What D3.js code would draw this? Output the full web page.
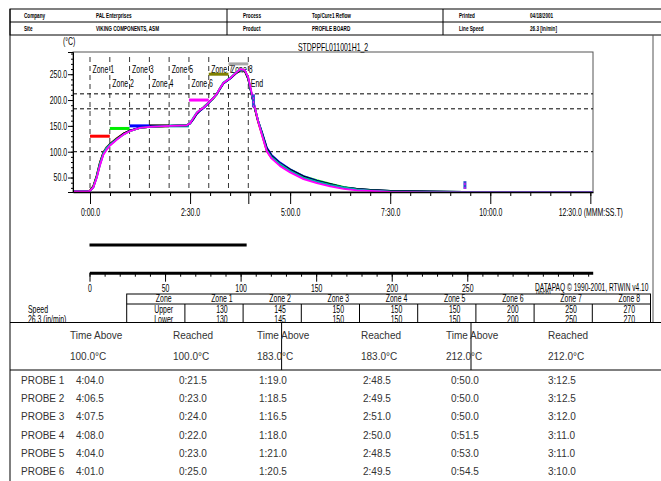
<!DOCTYPE html>
<html>
<head>
<meta charset="utf-8">
<script src="https://cdn.jsdelivr.net/npm/d3@7"></script>
<style>
body { margin: 0; background: #fff; }
svg text { font-family: "Liberation Sans", Arial, sans-serif; fill: #000; }
svg .plain { fill: #333; }
</style>
</head>
<body>
<div id="chart"></div>
<script>
// ---- data ----
const headerRow1 = ["Company", "PAL Enterprises", "Process", "Top/Cure1 Reflow", "Printed", "04/18/2001"];
const headerRow2 = ["Site", "VIKING COMPONENTS, ASM", "Product", "PROFILE BOARD", "Line Speed", "26.3 [in/min]"];
const chartTitle = "STDPPFL011001H1_2";

const zoneNames = ["Zone 1", "Zone 2", "Zone 3", "Zone 4", "Zone 5", "Zone 6", "Zone 7", "Zone 8", "End"];
const zoneStart = [0, 29.7, 59.3, 89, 118.6, 148.3, 178, 207.6, 237.3];   // seconds
const zoneLabelRow = [0, 1, 0, 1, 0, 1, 0, 0, 1];
const zoneUpper = [130, 145, 150, 150, 150, 200, 250, 270];
const zoneLower = [130, 145, 150, 150, 150, 200, 250, 270];
const zoneColors = ["#ff0000", "#00ee00", "#0000ff", "#000000", "#00a0a0", "#ff00ff", "#808000", "#a8a8a8"];

const thresholds = [100, 183, 212];

const yMajor = [50, 100, 150, 200, 250];
const timeMajor = [0, 150, 300, 450, 600, 750];
const timeTickLabels = ["0:00.0", "2:30.0", "5:00.0", "7:30.0", "10:00.0", "12:30.0 (MMM:SS.T)"];
const distMajor = [0, 50, 100, 150, 200, 250];
const ovenLength = 104;

// probe samples (seconds, degC)
const times = [-25, -3, 0, 5, 10, 15, 20, 25, 30, 40, 50, 60, 75, 90, 120, 145, 150, 155, 160, 165, 170, 175, 180, 185, 190, 195, 200, 210, 220, 226, 232, 237, 242, 247, 252, 258, 265, 272, 285, 300, 320, 340, 360, 380, 400, 420, 450, 500, 560, 620, 675, 754];
const probe1 = [23, 23, 25, 34, 54, 80, 99, 109, 115, 126, 135, 141, 146, 148, 150, 151, 155, 165, 175, 181, 186, 192, 198, 204, 211, 223, 233, 242, 254, 259, 256, 241, 212, 183, 157, 132, 101, 88, 74, 62, 49, 41, 35, 30, 27, 25, 23, 22, 22, 22, 22, 22];
const probe2 = [23, 23, 24, 32, 51, 77, 97, 107, 114, 125, 134, 140, 146, 148, 150, 151, 155, 164, 174, 180, 185, 191, 197, 203, 211, 222, 232, 242, 253, 258, 257, 243, 213, 185, 160, 136, 106, 93, 78, 66, 53, 45, 38, 32, 28, 26, 24, 23, 22, 22, 22, 22];
const probe3 = [23, 23, 24, 31, 50, 75, 95, 105, 113, 124, 134, 141, 147, 149, 150, 151, 154, 163, 173, 179, 184, 190, 197, 204, 211, 222, 232, 241, 253, 258, 257, 242, 212, 184, 160, 137, 108, 94, 79, 66, 53, 44, 37, 31, 28, 26, 24, 23, 22, 22, 22, 22];
const probe4 = [23, 23, 25, 33, 53, 79, 98, 108, 115, 125, 135, 141, 146, 148, 150, 151, 155, 164, 174, 180, 185, 191, 198, 204, 212, 223, 233, 242, 253, 258, 257, 242, 213, 184, 159, 135, 106, 92, 77, 65, 52, 43, 37, 31, 28, 26, 24, 23, 22, 22, 22, 22];
const probe5 = [23, 23, 24, 32, 52, 78, 97, 108, 114, 124, 133, 140, 146, 148, 150, 151, 156, 166, 176, 181, 186, 192, 198, 204, 212, 224, 234, 243, 255, 259, 258, 244, 214, 186, 160, 134, 103, 90, 76, 63, 50, 42, 36, 31, 27, 25, 23, 22, 22, 22, 22, 22];
const probe6 = [23, 23, 24, 31, 49, 74, 94, 104, 112, 123, 133, 140, 146, 148, 150, 151, 155, 165, 175, 181, 185, 191, 198, 204, 212, 223, 233, 242, 254, 260, 258, 245, 216, 187, 159, 131, 101, 87, 72, 60, 47, 39, 33, 28, 25, 24, 22, 21, 21, 21, 21, 21];
const probes = [probe1, probe2, probe3, probe4, probe5, probe6];
const probeColors = ["#ff0000", "#00ee00", "#0000ff", "#000000", "#00b0b0", "#ff00ff"];

// stray marks drawn by the logger
const markTimes = [245, 562];
const markLow = [186, 28];
const markHigh = [211, 43];

// summary table
const probeNames = ["PROBE 1", "PROBE 2", "PROBE 3", "PROBE 4", "PROBE 5", "PROBE 6"];
const timeAbove100 = ["4:04.0", "4:06.5", "4:07.5", "4:08.0", "4:04.0", "4:01.0"];
const reached100 = ["0:21.5", "0:23.0", "0:24.0", "0:22.0", "0:23.0", "0:25.0"];
const timeAbove183 = ["1:19.0", "1:18.5", "1:16.5", "1:18.0", "1:21.0", "1:20.5"];
const reached183 = ["2:48.5", "2:49.5", "2:51.0", "2:50.0", "2:48.5", "2:49.5"];
const timeAbove212 = ["0:50.0", "0:50.0", "0:50.0", "0:51.5", "0:53.0", "0:54.5"];
const reached212 = ["3:12.5", "3:12.5", "3:12.0", "3:11.0", "3:11.0", "3:10.0"];
const summaryHead1 = ["Time Above", "Reached", "Time Above", "Reached", "Time Above", "Reached"];
const summaryHead2 = ["100.0°C", "100.0°C", "183.0°C", "183.0°C", "212.0°C", "212.0°C"];

// squeeze text horizontally around its own x (the report uses a narrow font)
function squeeze(sel, s) {
    sel.attr("transform", function() {
        const x0 = +this.getAttribute("x") || 0;
        return `translate(${x0},0) scale(${s},1) translate(${-x0},0)`;
    });
}
const NS = 0.66, FS = 10.5;

// ---- drawing ----
const svg = d3.select("#chart").append("svg")
    .attr("width", 661)
    .attr("height", 481);

// header box
const hx = [24, 96, 243, 312, 459, 530];
svg.append("rect").attr("x", 10).attr("y", 9).attr("width", 700).attr("height", 26)
    .attr("fill", "none").attr("stroke", "#000");
svg.append("line").attr("x1", 10).attr("x2", 661).attr("y1", 22).attr("y2", 22).attr("stroke", "#000");
[227, 443].forEach(d => svg.append("line").attr("x1", d).attr("x2", d).attr("y1", 9).attr("y2", 35).attr("stroke", "#000"));
[headerRow1, headerRow2].forEach((row, r) => {
    svg.append("g").selectAll("text").data(row).join("text")
        .attr("x", (d, i) => hx[i])
        .attr("y", r == 0 ? 18.5 : 31.5)
        .attr("font-size", 8)
        .attr("font-weight", "bold")
        .text(d => d)
        .call(squeeze, 0.58);
});

// page frame
svg.append("line").attr("x1", 10).attr("x2", 10).attr("y1", 9).attr("y2", 322).attr("stroke", "#000");
svg.append("line").attr("x1", 653).attr("x2", 653).attr("y1", 35).attr("y2", 322).attr("stroke", "#555");

// scales
const x = d3.scaleLinear().domain([-25.5, 754]).range([73, 593]);
const y = d3.scaleLinear().domain([22, 293]).range([192, 52]);
const dx = d3.scaleLinear().domain([0, 333]).range([89.5, 592.7]);

svg.append("text").attr("x", 63).attr("y", 45).attr("font-size", FS).text("(°C)").call(squeeze, NS);
svg.append("text").attr("x", 298).attr("y", 51).attr("font-size", FS).text(chartTitle).call(squeeze, NS);

svg.append("defs").append("clipPath").attr("id", "plotclip")
    .append("rect").attr("x", 73).attr("y", 52).attr("width", 520).attr("height", 141);

// plot border
svg.append("rect").attr("x", 73).attr("y", 52).attr("width", 520).attr("height", 140)
    .attr("fill", "none").attr("stroke", "#555");

// threshold dashes
svg.append("g").selectAll("line").data(thresholds).join("line")
    .attr("x1", 73).attr("x2", 593)
    .attr("y1", d => y(d)).attr("y2", d => y(d))
    .attr("stroke", "#000").attr("stroke-dasharray", "4,3");

// zone dividers
svg.append("g").selectAll("line").data(zoneStart).join("line")
    .attr("x1", d => x(d)).attr("x2", d => x(d))
    .attr("y1", 57).attr("y2", 192)
    .attr("stroke", "#000").attr("stroke-width", 0.8).attr("stroke-dasharray", "5,4");

svg.append("g").selectAll("text").data(zoneNames).join("text")
    .attr("x", (d, i) => x(zoneStart[i]) + 2.5)
    .attr("y", (d, i) => zoneLabelRow[i] == 0 ? 73 : 87)
    .attr("font-size", FS)
    .text(d => d)
    .call(squeeze, NS);

// setpoint bars
svg.append("g").selectAll("line").data(zoneUpper).join("line")
    .attr("x1", (d, i) => x(zoneStart[i]))
    .attr("x2", (d, i) => x(zoneStart[i + 1]))
    .attr("y1", d => y(d)).attr("y2", d => y(d))
    .attr("stroke", (d, i) => zoneColors[i])
    .attr("stroke-width", 3);

// probe curves
const line = d3.line()
    .x((d, i) => x(times[i]))
    .y(d => y(d));

svg.append("g").attr("clip-path", "url(#plotclip)")
    .selectAll("path").data(probes).join("path")
    .attr("d", d => line(d))
    .attr("fill", "none")
    .attr("stroke", (d, i) => probeColors[i])
    .attr("stroke-width", 1.8)
    .attr("stroke-linejoin", "round");

const marks = svg.append("g");
markTimes.forEach((t, i) => {
    marks.append("line").attr("x1", x(t)).attr("x2", x(t))
        .attr("y1", y(markLow[i])).attr("y2", y(markHigh[i]))
        .attr("stroke", "#3050d0").attr("stroke-width", 3);
    marks.append("line").attr("x1", x(t)).attr("x2", x(t))
        .attr("y1", y(markLow[i])).attr("y2", y(markHigh[i]))
        .attr("stroke", "#ff00ff").attr("stroke-width", 1.2).attr("stroke-dasharray", "2,2");
});

// y axis
svg.append("g").attr("transform", "translate(73,0)")
    .call(d3.axisLeft(y).tickValues(d3.range(30, 291, 10)).tickSize(2).tickFormat(""))
    .call(g => g.select(".domain").remove());
svg.append("g").attr("transform", "translate(73,0)")
    .call(d3.axisLeft(y).tickValues(yMajor).tickSize(5).tickPadding(1).tickFormat(d3.format(".1f")))
    .call(g => g.select(".domain").attr("stroke", "#000"))
    .call(g => g.selectAll("text").attr("font-size", FS).attr("font-family", null).call(squeeze, NS));

// x axis
svg.append("g").attr("transform", "translate(0,192)")
    .call(d3.axisBottom(x).tickValues(d3.range(0, 751, 30)).tickSize(4).tickFormat(""))
    .call(g => g.select(".domain").remove());
svg.append("g").attr("transform", "translate(0,192)")
    .call(d3.axisBottom(x).tickValues(timeMajor).tickSize(12).tickPadding(5).tickSizeOuter(0)
        .tickFormat((d, i) => timeTickLabels[i]))
    .call(g => g.select(".domain").attr("stroke", "#000").attr("stroke-width", 1.5))
    .call(g => g.selectAll("text").attr("font-size", FS).attr("font-family", null).call(squeeze, NS));
svg.append("g").attr("transform", "translate(0,192)")
    .call(d3.axisBottom(x).tickValues([zoneStart[zoneStart.length - 1]]).tickSize(12).tickFormat(""))
    .call(g => g.select(".domain").remove());

// conveyor / distance panel
svg.append("line")
    .attr("x1", dx(0)).attr("x2", dx(ovenLength))
    .attr("y1", 245).attr("y2", 245)
    .attr("stroke", "#000").attr("stroke-width", 3);

svg.append("g").attr("transform", "translate(0,272.7)")
    .call(d3.axisBottom(dx).tickValues(d3.range(0, 331, 10)).tickSize(4).tickSizeOuter(0).tickFormat(""))
    .call(g => g.select(".domain").attr("stroke", "#000").attr("stroke-width", 3));
svg.append("g").attr("transform", "translate(0,272.7)")
    .call(d3.axisBottom(dx).tickValues(distMajor).tickSize(9).tickPadding(3).tickFormat(d3.format("d")))
    .call(g => g.select(".domain").remove())
    .call(g => g.selectAll("text").attr("font-size", FS).attr("font-family", null).call(squeeze, NS));

svg.append("text").attr("x", 536).attr("y", 296).attr("font-size", 9).text("(inch)").call(squeeze, NS);
svg.append("text").attr("x", 535).attr("y", 291).attr("font-size", FS)
    .text("DATAPAQ © 1990-2001, RTWIN v4.10").call(squeeze, 0.63);

// zone table
const tLeft = 126.7, tCol = 58.2;
const tableCols = ["Zone"].concat(zoneNames.slice(0, 8));
svg.append("rect").attr("x", tLeft).attr("y", 294).attr("width", tCol * 9).attr("height", 30)
    .attr("fill", "#fff").attr("stroke", "#000");
svg.append("line").attr("x1", tLeft).attr("x2", tLeft + tCol * 9).attr("y1", 304).attr("y2", 304).attr("stroke", "#000");
svg.append("g").selectAll("line").data(d3.range(1, 9)).join("line")
    .attr("x1", d => tLeft + d * tCol).attr("x2", d => tLeft + d * tCol)
    .attr("y1", 304).attr("y2", 324).attr("stroke", "#000");
const tableRows = [tableCols, ["Upper"].concat(zoneUpper), ["Lower"].concat(zoneLower)];
tableRows.forEach((row, r) => {
    svg.append("g").selectAll("text").data(row).join("text")
        .attr("x", (d, i) => tLeft + i * tCol + 37)
        .attr("y", [302.5, 313, 323.5][r])
        .attr("text-anchor", "middle")
        .attr("font-size", FS)
        .text(d => d)
        .call(squeeze, NS);
});
svg.append("text").attr("x", 28).attr("y", 313).attr("font-size", FS).text("Speed").call(squeeze, NS);
svg.append("text").attr("x", 28).attr("y", 323.5).attr("font-size", FS).text("26.3 (in/min)").call(squeeze, NS);

// summary panel (covers the bottom of the zone table)
svg.append("rect").attr("x", 10).attr("y", 322.5).attr("width", 700).attr("height", 200)
    .attr("fill", "#fff").attr("stroke", "#000");
svg.append("line").attr("x1", 10).attr("x2", 661).attr("y1", 370).attr("y2", 370).attr("stroke", "#000");
[281.6, 471].forEach(d => svg.append("line").attr("x1", d).attr("x2", d)
    .attr("y1", 322.5).attr("y2", 370).attr("stroke", "#000"));

const sx = [70, 173, 257, 361, 446, 548];
svg.append("g").selectAll("text").data(summaryHead1).join("text")
    .attr("class", "plain").attr("x", (d, i) => sx[i]).attr("y", 339).attr("font-size", 10).text(d => d);
svg.append("g").selectAll("text").data(summaryHead2).join("text")
    .attr("class", "plain").attr("x", (d, i) => sx[i]).attr("y", 360).attr("font-size", 10).text(d => d);

const px = [21, 76, 179, 259, 363, 451, 548];
const summaryCols = [probeNames, timeAbove100, reached100, timeAbove183, reached183, timeAbove212, reached212];
summaryCols.forEach((col, c) => {
    svg.append("g").selectAll("text").data(col).join("text")
        .attr("class", "plain")
        .attr("x", px[c])
        .attr("y", (d, i) => 384 + i * 18.2)
        .attr("font-size", 10)
        .text(d => d);
});
</script>
</body>
</html>
